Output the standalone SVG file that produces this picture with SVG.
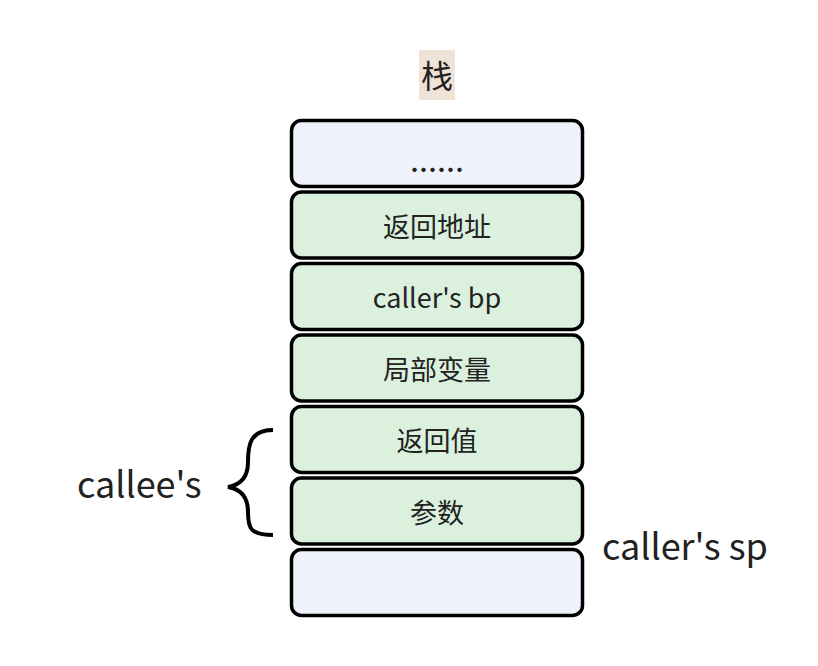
<svg xmlns="http://www.w3.org/2000/svg" width="818" height="666" viewBox="0 0 818 666">
<style>
.box{stroke:#000;stroke-width:3.5}
.g{fill:#dbf1de}
.b{fill:#eff2fa}
.t{font-family:"Noto Sans CJK SC","Noto Sans",sans-serif;font-size:27px;fill:#222;text-anchor:middle}
.l{font-family:"Noto Sans CJK SC","Noto Sans",sans-serif;font-size:36px;fill:#222}
</style>
<rect width="818" height="666" fill="#fff"/>
<g id="title">
<rect x="419" y="50" width="36" height="50" fill="#efe2d6"/>
<text x="437" y="88" class="t" style="font-size:32px">栈</text>
</g>
<g id="n0"><rect class="box b" x="291.5" y="120.5" width="291" height="66" rx="10"/><text class="t" x="437" y="180" style="font-weight:bold">……</text></g>
<g id="n1"><rect class="box g" x="291.5" y="192" width="291" height="66" rx="10"/><text class="t" x="437" y="237">返回地址</text></g>
<g id="n2"><rect class="box g" x="291.5" y="263.5" width="291" height="66" rx="10"/><text class="t" x="437" y="308">caller's bp</text></g>
<g id="n3"><rect class="box g" x="291.5" y="335" width="291" height="66" rx="10"/><text class="t" x="437" y="380">局部变量</text></g>
<g id="n4"><rect class="box g" x="291.5" y="406.5" width="291" height="66" rx="10"/><text class="t" x="437" y="451">返回值</text></g>
<g id="n5"><rect class="box g" x="291.5" y="478" width="291" height="66" rx="10"/><text class="t" x="437" y="523">参数</text></g>
<g id="n6"><rect class="box b" x="291.5" y="549.5" width="291" height="66" rx="10"/></g>
<g id="connectors">
<path d="M273 430 C250 430 248 445 248 462 C248 478 240 485 228 487 C240 489 248 496 248 512 C248 528 250 535 273 535" fill="none" stroke="#000" stroke-width="4"/>
</g>
<g id="labels">
<text class="l" x="77" y="498">callee's</text>
<text class="l" x="602" y="560">caller's sp</text>
</g>
</svg>
